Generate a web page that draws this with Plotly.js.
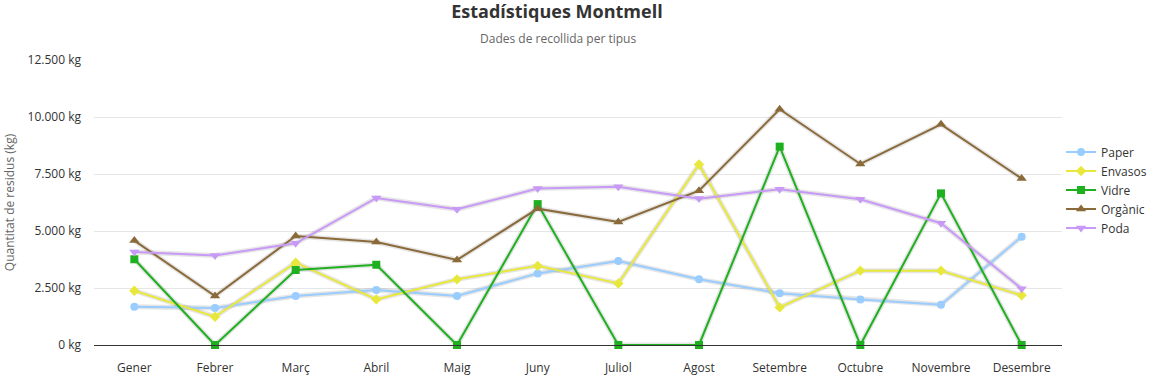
<!DOCTYPE html>
<html>
<head>
<meta charset="utf-8">
<script src="https://cdn.plot.ly/plotly-3.0.1.min.js"></script>
<style>html,body{margin:0;padding:0;background:#fff}#chart{width:1156px;height:377px}</style>
</head>
<body>
<div id="chart"></div>
<script>
const months = ["Gener","Febrer","Març","Abril","Maig","Juny","Juliol","Agost","Setembre","Octubre","Novembre","Desembre"];
const paper   = [1680,1620,2150,2410,2150,3140,3680,2880,2270,2000,1770,4750];
const envasos = [2380,1240,3610,2000,2880,3470,2700,7920,1650,3260,3260,2180];
const vidre   = [3760,0,3290,3520,0,6180,0,0,8700,0,6650,0];
const organic = [4580,2150,4780,4520,3730,5980,5400,6770,10340,7940,9680,7300];
const poda    = [4080,3930,4460,6450,5950,6860,6940,6420,6830,6390,5340,2470];
const names   = ["Paper","Envasos","Vidre","Orgànic","Poda"];
const yTickVals = [0,2500,5000,7500,10000,12500];
const yTickText = ["0 kg","2.500 kg","5.000 kg","7.500 kg","10.000 kg","12.500 kg"];

const seriesData = [paper, envasos, vidre, organic, poda];
const colors = ["#99ccff","#e8e83c","#1fb01f","#8b6a3a","#c899f7"];
const symbols = ["circle","diamond","square","triangle-up","triangle-down"];
const sizes = [8,8,8,9,9];

const traces = [];
seriesData.forEach((d,i)=>{
  traces.push({x:months,y:d,type:'scatter',mode:'lines',showlegend:false,hoverinfo:'skip',
    line:{color:'rgba(0,0,0,0.10)',width:5},cliponaxis:false});
});
seriesData.forEach((d,i)=>{
  traces.push({x:months,y:d,name:names[i],type:'scatter',mode:'lines+markers',cliponaxis:false,
    line:{color:colors[i],width:2},
    marker:{color:colors[i],symbol:symbols[i],size:sizes[i]}});
});

const font = '"Open Sans", "Noto Sans", sans-serif';
const layout = {
  width:1156,height:377,
  font:{family:font,size:12,color:'#333'},
  paper_bgcolor:'#fff',plot_bgcolor:'#fff',
  margin:{l:94,r:94,t:60,b:32,autoexpand:false},
  title:{text:'<b>Estadístiques Montmell</b>',xref:'container',x:0.4818,xanchor:'center',y:0.968,yanchor:'middle',
    font:{family:font,size:18,color:'#333'}},
  annotations:[{text:'Dades de recollida per tipus',xref:'paper',yref:'paper',x:0.479,y:1,yshift:22,
    xanchor:'center',yanchor:'middle',showarrow:false,font:{family:font,size:12,color:'#666'}},
  ],
  xaxis:{type:'category',range:[-0.5,11.5],showgrid:false,showline:true,linecolor:'#333',linewidth:1,
    ticks:'',tickfont:{size:12,color:'#333'},ticklabelstandoff:12,zeroline:false,fixedrange:true,automargin:false},
  yaxis:{range:[0,12500],tickvals:yTickVals,ticktext:yTickText,
    showgrid:true,gridcolor:'#e6e6e6',zeroline:false,showline:false,ticks:'',automargin:false,
    tickfont:{size:12,color:'#333'},ticklabelstandoff:12,
    title:{text:'Quantitat de residus (kg)',font:{size:12,color:'#666'},standoff:10}},
  legend:{x:0.999,xanchor:'left',y:0.544,yanchor:'middle',font:{size:12,color:'#333'},
    tracegroupgap:0,itemwidth:30,bgcolor:'rgba(0,0,0,0)'},
  showlegend:true
};
Plotly.newPlot('chart',traces,layout,{displayModeBar:false,staticPlot:true});
</script>
</body>
</html>
